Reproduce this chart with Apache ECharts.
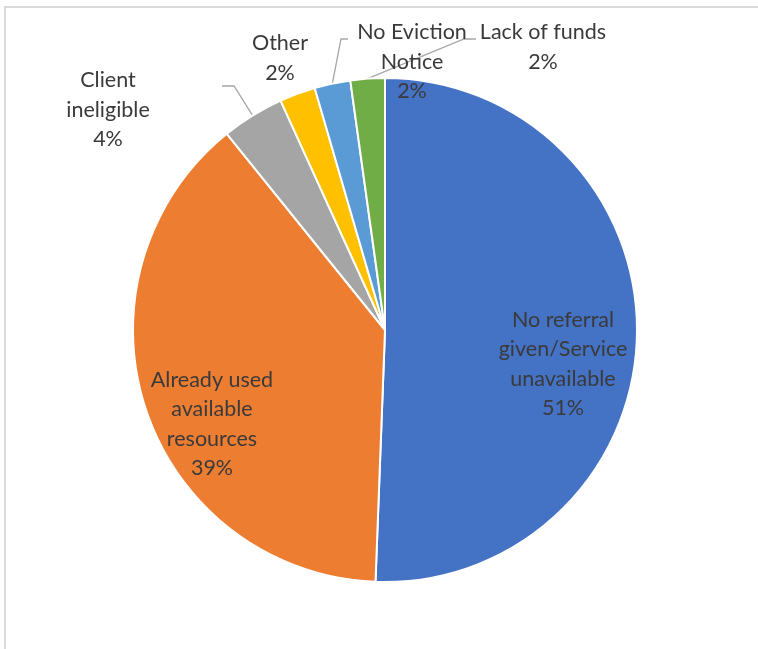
<!DOCTYPE html>
<html>
<head>
<meta charset="utf-8">
<script src="https://cdn.jsdelivr.net/npm/echarts@6/dist/echarts.min.js"></script>
<style>
  html, body { margin: 0; padding: 0; background: #fff; }
  #chart { width: 758px; height: 649px; }
</style>
</head>
<body>
<div id="chart"></div>
<script>
// ---- data ----
const categories = [
  'No referral\ngiven/Service\nunavailable',
  'Already used\navailable\nresources',
  'Client\nineligible',
  'Other',
  'No Eviction\nNotice',
  'Lack of funds'
];
const values = [50.6, 38.6, 4.0, 2.3, 2.3, 2.2];
const colors = ['#4472C4', '#ED7D31', '#A5A5A5', '#FFC000', '#5B9BD5', '#70AD47'];

// ---- label layout (pixel positions of label block centres, leader elbows) ----
const labelPos = [
  { x: 563, y: 364 },
  { x: 212, y: 424 },
  { x: 108, y: 110 },
  { x: 280, y: 58 },
  { x: 412, y: 62 },
  { x: 543, y: 47 }
];
const leaderPts = [
  null,
  null,
  [[234, 86], [222, 86]],
  null,
  [[341, 39], [348, 39]],
  [[464, 39], [476, 39]]
];

const chart = echarts.init(document.getElementById('chart'), null, { renderer: 'canvas' });

const data = categories.map((name, i) => ({
  name: name,
  value: values[i],
  itemStyle: { color: colors[i] },
  labelLine: { show: !!leaderPts[i] }
}));

chart.setOption({
  animation: false,
  graphic: [{
    type: 'rect',
    shape: { x: 5, y: 7, width: 800, height: 800 },
    style: { fill: 'none', stroke: '#d9d9d9', lineWidth: 2 },
    silent: true,
    z: -1
  }],
  series: [{
    type: 'pie',
    center: [385, 330],
    radius: 252,
    startAngle: 90,
    clockwise: true,
    avoidLabelOverlap: false,
    percentPrecision: 0,
    itemStyle: { borderColor: '#ffffff', borderWidth: 2 },
    label: {
      show: true,
      position: 'outside',
      formatter: '{b}\n{d}%',
      fontFamily: 'Lato, "Noto Sans", sans-serif',
      fontSize: 21.5,
      lineHeight: 29.5,
      color: '#3a3a3a',
      align: 'center'
    },
    labelLine: {
      show: true,
      length: 10,
      length2: 10,
      lineStyle: { color: '#a6a6a6', width: 1.3 }
    },
    labelLayout: function (params) {
      const i = params.dataIndex;
      const p = labelPos[i];
      const out = { x: p.x, y: p.y, align: 'center', verticalAlign: 'middle' };
      if (leaderPts[i] && params.labelLinePoints) {
        const s = params.labelLinePoints[0];
        out.labelLinePoints = [s, leaderPts[i][0], leaderPts[i][1]];
      }
      return out;
    },
    data: data
  }]
});
</script>
</body>
</html>
